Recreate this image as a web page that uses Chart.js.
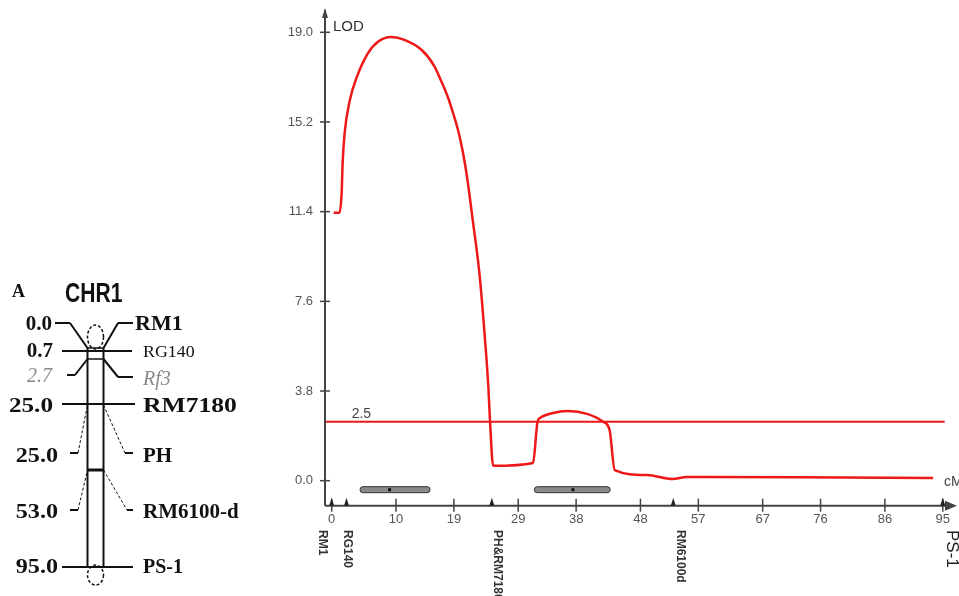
<!DOCTYPE html>
<html>
<head>
<meta charset="utf-8">
<script src="https://cdn.jsdelivr.net/npm/chart.js@4.4.0/dist/chart.umd.min.js"></script>
<style>
  body { margin: 0; background: #fff; }
  #wrap { position: relative; width: 959px; height: 596px; overflow: hidden; }
  canvas { position: absolute; left: 0; top: 0; }
</style>
</head>
<body>
<div id="wrap">
  <canvas id="grafico" width="959" height="596"></canvas>
  <canvas id="mapa" width="260" height="596"></canvas>
</div>
<script>
// LOD profile (cM, LOD)
const lodCM = [0.3, 1.2, 1.55, 1.7, 2.0, 2.8, 3.9, 5.6, 7.2, 9.3, 11.3, 14.0, 16.0, 17.0, 18.0, 18.9, 19.6, 20.3, 21.0, 21.9, 23.0, 23.8, 24.35, 24.6, 25.1,
               31.3, 32.0, 32.4, 34.4, 36.7, 39.7, 42.2, 43.2, 44.0, 49.0, 53.0, 55.2, 57.2, 72.8, 93.5];
const lodValues = [11.35, 11.35, 12.2, 13.45, 14.7, 16.1, 17.1, 18.1, 18.6, 18.8, 18.68, 18.25, 17.55, 16.95, 16.3, 15.55, 14.9, 14.05, 12.95, 11.1, 8.7, 6.1, 4.0, 2.6, 0.63,
                   0.75, 2.5, 2.66, 2.87, 2.95, 2.83, 2.5, 2.15, 0.45, 0.24, 0.07, 0.16, 0.16, 0.15, 0.11];
const thresholdLOD = 2.5;
const xTicks = [0, 10, 19, 29, 38, 48, 57, 67, 76, 86, 95];
const yTicks = [0, 3.8, 7.6, 11.4, 15.2, 19.0];

// markers under the axis
const plotMarkers = ["RM1", "RG140", "PH&RM7180", "RM6100d", "PS-1"];
const plotMarkerCM = [0, 2.3, 24.9, 53.1, 95];

// support intervals (grey bars)
const ciLow = [4.4, 31.5];
const ciHigh = [15.3, 43.3];
const ciPeak = [9.0, 37.5];

// linkage map on the left
const mapPositions = ["0.0", "0.7", "2.7", "25.0", "25.0", "53.0", "95.0"];
const mapMarkers = ["RM1", "RG140", "Rf3", "RM7180", "PH", "RM6100-d", "PS-1"];

const rojo = "rgb(238, 24, 24)";

function linea(ctx, pts, w, dash) {
  ctx.beginPath();
  ctx.lineWidth = w;
  ctx.setLineDash(dash || []);
  pts.forEach((p, i) => i ? ctx.lineTo(p[0], p[1]) : ctx.moveTo(p[0], p[1]));
  ctx.stroke();
  ctx.setLineDash([]);
}

function texto(ctx, t, x, y, font, color, align, sx) {
  ctx.save();
  ctx.translate(x, y);
  ctx.scale(sx || 1, 1);
  ctx.font = font;
  ctx.fillStyle = color;
  ctx.textAlign = align || "left";
  ctx.textBaseline = "alphabetic";
  ctx.fillText(t, 0, 0);
  ctx.restore();
}

// ---------- LOD plot ----------
const decorado = {
  id: "decorado",
  afterDraw(chart) {
    const { ctx, chartArea: a, scales: { x, y } } = chart;
    ctx.save();
    ctx.strokeStyle = "#444";
    ctx.fillStyle = "#444";

    // axes
    linea(ctx, [[a.left, a.top - 2], [a.left, a.bottom]], 2);
    linea(ctx, [[a.left, a.bottom], [a.right - 2, a.bottom]], 2);
    ctx.beginPath();
    ctx.moveTo(a.right + 2, a.bottom);
    ctx.lineTo(a.right - 10, a.bottom - 5);
    ctx.lineTo(a.right - 10, a.bottom + 5);
    ctx.closePath();
    ctx.fill();
    ctx.beginPath();
    ctx.moveTo(a.left, a.top - 4);
    ctx.lineTo(a.left - 3, a.top + 6);
    ctx.lineTo(a.left + 3, a.top + 6);
    ctx.closePath();
    ctx.fill();

    // crossing ticks
    yTicks.forEach(v => {
      const py = y.getPixelForValue(v);
      linea(ctx, [[a.left - 5, py], [a.left + 5, py]], 1.5);
    });
    xTicks.forEach(v => {
      const px = x.getPixelForValue(v);
      linea(ctx, [[px, a.bottom - 7], [px, a.bottom + 6]], 1.5);
    });

    // support intervals
    const yb = y.getPixelForValue(0) + 9;
    ciLow.forEach((lo, i) => {
      const x0 = x.getPixelForValue(lo), x1 = x.getPixelForValue(ciHigh[i]);
      ctx.beginPath();
      ctx.roundRect(x0, yb - 3, x1 - x0, 6, 3);
      ctx.fillStyle = "#8a8a8a";
      ctx.fill();
      ctx.lineWidth = 1;
      ctx.strokeStyle = "#333";
      ctx.stroke();
      ctx.fillStyle = "#111";
      ctx.fillRect(x.getPixelForValue(ciPeak[i]) - 1.5, yb - 1.5, 3, 3);
    });

    // marker symbols and names
    const desplaza = [-9, 1, 5, 7, 9];
    plotMarkerCM.forEach((c, i) => {
      const px = x.getPixelForValue(c);
      ctx.fillStyle = "#222";
      ctx.beginPath();
      ctx.moveTo(px, a.bottom - 8);
      ctx.lineTo(px - 2.5, a.bottom);
      ctx.lineTo(px + 2.5, a.bottom);
      ctx.closePath();
      ctx.fill();
      ctx.save();
      ctx.translate(px + desplaza[i], 530);
      ctx.rotate(Math.PI / 2);
      ctx.font = i === 4 ? "17px Liberation Sans" : "bold 12px Liberation Sans";
      ctx.fillStyle = i === 4 ? "#222" : "#333";
      ctx.textAlign = "left";
      ctx.textBaseline = "middle";
      ctx.fillText(plotMarkers[i], 0, 0);
      ctx.restore();
    });

    // captions
    texto(ctx, "LOD", a.left + 8, 31, "15px Liberation Sans", "#333");
    texto(ctx, "2.5", x.getPixelForValue(3.1), y.getPixelForValue(thresholdLOD) - 4, "14px Liberation Sans", "#444");
    texto(ctx, "cM", a.right - 11, y.getPixelForValue(0) + 5, "14px Liberation Sans", "#444");
    ctx.restore();
  }
};

new Chart(document.getElementById("grafico"), {
  type: "line",
  data: {
    datasets: [
      {
        data: lodCM.map((c, i) => ({ x: c, y: lodValues[i] })),
        borderColor: rojo,
        borderWidth: 2.5,
        pointRadius: 0,
        cubicInterpolationMode: "monotone",
        fill: false
      },
      {
        data: [{ x: -1.04, y: thresholdLOD }, { x: 95.3, y: thresholdLOD }],
        borderColor: rojo,
        borderWidth: 2,
        pointRadius: 0,
        tension: 0,
        fill: false
      }
    ]
  },
  options: {
    responsive: false,
    animation: false,
    devicePixelRatio: 1,
    layout: { padding: { left: 0, right: 4, top: 12, bottom: 0 } },
    plugins: { legend: { display: false }, tooltip: { enabled: false } },
    scales: {
      x: {
        type: "linear",
        min: -1.04,
        max: 96.9,
        grid: { display: false, drawTicks: false, tickLength: 0 },
        border: { display: false },
        afterBuildTicks: s => { s.ticks = xTicks.map(v => ({ value: v })); },
        afterFit: s => { s.height = 90.3; },
        ticks: {
          autoSkip: false,
          maxRotation: 0,
          padding: 6,
          color: "#555",
          font: { family: "Liberation Sans", size: 13 },
          callback: v => String(v)
        }
      },
      y: {
        min: -1.06,
        max: 19.86,
        grid: { display: false, drawTicks: false, tickLength: 0 },
        border: { display: false },
        afterBuildTicks: s => { s.ticks = yTicks.map(v => ({ value: v })); },
        afterFit: s => { s.width = 325; s.paddingTop = 0; s.paddingBottom = 0; },
        ticks: {
          padding: 12,
          color: "#555",
          font: { family: "Liberation Sans", size: 13 },
          callback: v => v.toFixed(1)
        }
      }
    }
  },
  plugins: [decorado]
});

// ---------- linkage map ----------
const filas = [
  { y: 323, at: 348, l: [55, 70], r: [118, 133], base: 330, tipo: "codo" },
  { y: 351, l: [62], r: [132], base: 357, tipo: "recta" },
  { y: 375, yr: 377, at: 359, l: [67, 75], r: [118, 133], base: 382, baseR: 385, tipo: "codo" },
  { y: 404, l: [62], r: [135], base: 412, tipo: "recta" },
  { y: 453, at: 405, l: [70, 78], r: [125, 133], base: 462, tipo: "codo", dash: true },
  { y: 510, at: 470, l: [70, 78], r: [127, 133], base: 518, tipo: "codo", dash: true },
  { y: 567, l: [62], r: [133], base: 573, tipo: "recta" }
];
const numX = [52, 53, 52, 53, 58, 58, 58];
const numSx = [1, 1, 1, 1.2, 1.15, 1.15, 1.15];
const nomX = [135, 143, 143, 143, 143, 143, 143];
const nomSx = [1.05, 1.05, 1, 1.22, 1, 1, 0.95];

const dibujaMapa = {
  id: "dibujaMapa",
  afterDraw(chart) {
    const { ctx, scales: { x, y } } = chart;
    const X = v => x.getPixelForValue(v), Y = v => y.getPixelForValue(v);
    const cl = 87.5, cr = 103.5, cx = 95.5;
    ctx.save();
    ctx.strokeStyle = "#111";

    texto(ctx, "A", X(12), Y(297), "bold 18px Liberation Serif", "#111");
    texto(ctx, "CHR1", X(65), Y(302), "bold 27px Liberation Sans", "#111", "left", 0.78);

    // chromosome body
    linea(ctx, [[X(cl), Y(348)], [X(cl), Y(567)]], 2);
    linea(ctx, [[X(cr), Y(348)], [X(cr), Y(567)]], 2);
    ctx.setLineDash([3, 2]);
    ctx.lineWidth = 1.5;
    ctx.beginPath();
    ctx.ellipse(X(cx), Y(337), 8, 12, 0, 0, Math.PI * 2);
    ctx.stroke();
    ctx.beginPath();
    ctx.ellipse(X(cx), Y(575), 8, 10, 0, 0, Math.PI * 2);
    ctx.stroke();
    ctx.setLineDash([]);
    linea(ctx, [[X(cl), Y(348)], [X(cr), Y(348)]], 1.5);
    linea(ctx, [[X(cl), Y(359)], [X(cr), Y(359)]], 1.5);
    linea(ctx, [[X(cl), Y(470)], [X(cr), Y(470)]], 3);

    filas.forEach((f, i) => {
      if (f.tipo === "recta") {
        linea(ctx, [[X(f.l[0]), Y(f.y)], [X(f.r[0]), Y(f.y)]], 2);
      } else {
        const yr = f.yr || f.y;
        linea(ctx, [[X(f.l[0]), Y(f.y)], [X(f.l[1]), Y(f.y)]], 2);
        linea(ctx, [[X(f.l[1]), Y(f.y)], [X(cl), Y(f.at)]], f.dash ? 1 : 2, f.dash ? [3, 2] : null);
        linea(ctx, [[X(cr), Y(f.at)], [X(f.r[0]), Y(yr)]], f.dash ? 1 : 2, f.dash ? [3, 2] : null);
        linea(ctx, [[X(f.r[0]), Y(yr)], [X(f.r[1]), Y(yr)]], 2);
      }
      const gris = mapMarkers[i] === "Rf3";
      const fNum = gris ? "italic 20px Liberation Serif" : "bold 21px Liberation Serif";
      const fNom = gris ? "italic 20px Liberation Serif"
        : (mapMarkers[i] === "RG140" ? "17px Liberation Serif" : "bold 21px Liberation Serif");
      const col = gris ? "#8a8a8a" : "#111";
      texto(ctx, mapPositions[i], X(numX[i]), Y(f.base), fNum, col, "right", numSx[i]);
      texto(ctx, mapMarkers[i], X(nomX[i]), Y(f.baseR || f.base), fNom, col, "left", nomSx[i]);
    });
    ctx.restore();
  }
};

new Chart(document.getElementById("mapa"), {
  type: "scatter",
  data: { datasets: [] },
  options: {
    responsive: false,
    animation: false,
    devicePixelRatio: 1,
    layout: { padding: 0 },
    plugins: { legend: { display: false }, tooltip: { enabled: false } },
    scales: {
      x: { type: "linear", min: 0, max: 260, display: false },
      y: { type: "linear", min: 0, max: 596, reverse: true, display: false }
    }
  },
  plugins: [dibujaMapa]
});
</script>
</body>
</html>
